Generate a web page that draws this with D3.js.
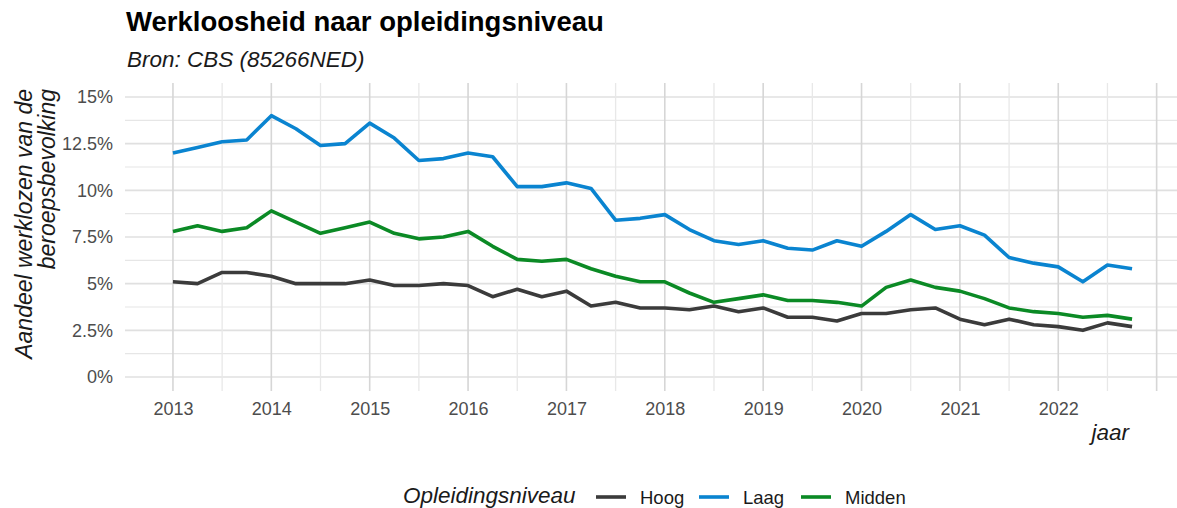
<!DOCTYPE html>
<html>
<head>
<meta charset="utf-8">
<script src="https://cdn.jsdelivr.net/npm/d3@7"></script>
<style>
  body { margin: 0; background: #fff; }
  svg { display: block; font-family: "Liberation Sans", Arial, sans-serif; }
</style>
</head>
<body>
<div id="chart"></div>
<script>
// kwartalen 2013 t/m 2022 (als decimaal jaar)
const jaren = [
  2013, 2013.25, 2013.5, 2013.75, 2014, 2014.25, 2014.5, 2014.75,
  2015, 2015.25, 2015.5, 2015.75, 2016, 2016.25, 2016.5, 2016.75,
  2017, 2017.25, 2017.5, 2017.75, 2018, 2018.25, 2018.5, 2018.75,
  2019, 2019.25, 2019.5, 2019.75, 2020, 2020.25, 2020.5, 2020.75,
  2021, 2021.25, 2021.5, 2021.75, 2022, 2022.25, 2022.5, 2022.75
];

const hoog = [
  5.1, 5.0, 5.6, 5.6, 5.4, 5.0, 5.0, 5.0,
  5.2, 4.9, 4.9, 5.0, 4.9, 4.3, 4.7, 4.3,
  4.6, 3.8, 4.0, 3.7, 3.7, 3.6, 3.8, 3.5,
  3.7, 3.2, 3.2, 3.0, 3.4, 3.4, 3.6, 3.7,
  3.1, 2.8, 3.1, 2.8, 2.7, 2.5, 2.9, 2.7
];

const laag = [
  12.0, 12.3, 12.6, 12.7, 14.0, 13.3, 12.4, 12.5,
  13.6, 12.8, 11.6, 11.7, 12.0, 11.8, 10.2, 10.2,
  10.4, 10.1, 8.4, 8.5, 8.7, 7.9, 7.3, 7.1,
  7.3, 6.9, 6.8, 7.3, 7.0, 7.8, 8.7, 7.9,
  8.1, 7.6, 6.4, 6.1, 5.9, 5.1, 6.0, 5.8
];

const midden = [
  7.8, 8.1, 7.8, 8.0, 8.9, 8.3, 7.7, 8.0,
  8.3, 7.7, 7.4, 7.5, 7.8, 7.0, 6.3, 6.2,
  6.3, 5.8, 5.4, 5.1, 5.1, 4.5, 4.0, 4.2,
  4.4, 4.1, 4.1, 4.0, 3.8, 4.8, 5.2, 4.8,
  4.6, 4.2, 3.7, 3.5, 3.4, 3.2, 3.3, 3.1
];

const niveaus = ["Hoog", "Laag", "Midden"];
const kleuren = ["#3b3b3b", "#0a84d0", "#0b8a25"];
const yTicks = [0, 2.5, 5, 7.5, 10, 12.5, 15];
const xTicks = [2013, 2014, 2015, 2016, 2017, 2018, 2019, 2020, 2021, 2022];

const width = 1177, height = 508;
const panel = { left: 125, right: 1180, top: 83, bottom: 391 };

const svg = d3.select("#chart").append("svg")
  .attr("width", width)
  .attr("height", height);

const x = d3.scaleLinear()
  .domain([2012.5125, 2023.2375])
  .range([panel.left, panel.right]);

const y = d3.scaleLinear()
  .domain([-0.75, 15.75])
  .range([panel.bottom, panel.top]);

const color = d3.scaleOrdinal().domain(niveaus).range(kleuren);

// grid
const grid = svg.append("g").attr("class", "grid");

const yMinor = d3.range(1.25, 15, 2.5);
grid.selectAll(".hminor")
  .data(yMinor)
  .join("line")
  .attr("x1", panel.left).attr("x2", panel.right)
  .attr("y1", d => y(d)).attr("y2", d => y(d))
  .attr("stroke", "#e6e6e6")
  .attr("stroke-width", 1.1);

grid.selectAll(".hmajor")
  .data(yTicks)
  .join("line")
  .attr("x1", panel.left).attr("x2", panel.right)
  .attr("y1", d => y(d)).attr("y2", d => y(d))
  .attr("stroke", "#e0e0e0")
  .attr("stroke-width", 1.6);

const xMinor = d3.range(2013.5, 2023, 1);
grid.selectAll(".vminor")
  .data(xMinor)
  .join("line")
  .attr("x1", d => x(d)).attr("x2", d => x(d))
  .attr("y1", panel.top).attr("y2", panel.bottom)
  .attr("stroke", "#e8e8e8")
  .attr("stroke-width", 1.3);

grid.selectAll(".vmajor")
  .data(xTicks.concat([2023]))
  .join("line")
  .attr("x1", d => x(d)).attr("x2", d => x(d))
  .attr("y1", panel.top).attr("y2", panel.bottom)
  .attr("stroke", "#d6d6d6")
  .attr("stroke-width", 1.6);

// axes (labels only)
const xAxis = svg.append("g")
  .attr("transform", `translate(0,${panel.bottom})`)
  .call(d3.axisBottom(x).tickValues(xTicks).tickFormat(d3.format("d")).tickSize(0).tickPadding(11));
xAxis.select(".domain").remove();
xAxis.selectAll("text")
  .attr("font-size", 18)
  .attr("fill", "#4d4d4d")
  .attr("font-family", "Liberation Sans, Arial, sans-serif");

const yAxis = svg.append("g")
  .attr("transform", `translate(${panel.left},0)`)
  .call(d3.axisLeft(y).tickValues(yTicks).tickFormat(d => d + "%").tickSize(0).tickPadding(12));
yAxis.select(".domain").remove();
yAxis.selectAll("text")
  .attr("font-size", 18)
  .attr("fill", "#4d4d4d")
  .attr("font-family", "Liberation Sans, Arial, sans-serif");

// lines
const series = [
  { naam: "Hoog", waarden: hoog },
  { naam: "Laag", waarden: laag },
  { naam: "Midden", waarden: midden }
];

const line = d3.line()
  .x((d, i) => x(jaren[i]))
  .y(d => y(d));

svg.append("g")
  .selectAll("path")
  .data(series)
  .join("path")
  .attr("d", d => line(d.waarden))
  .attr("fill", "none")
  .attr("stroke", d => color(d.naam))
  .attr("stroke-width", 3.6)
  .attr("stroke-linejoin", "round");

// titles
svg.append("text")
  .attr("x", 126).attr("y", 31)
  .attr("font-size", 27.5)
  .attr("font-weight", "bold")
  .attr("fill", "#000")
  .text("Werkloosheid naar opleidingsniveau");

svg.append("text")
  .attr("x", 127).attr("y", 67)
  .attr("font-size", 22.5)
  .attr("font-style", "italic")
  .attr("fill", "#1a1a1a")
  .text("Bron: CBS (85266NED)");

const yTitle = svg.append("text")
  .attr("transform", "rotate(-90)")
  .attr("text-anchor", "end")
  .attr("font-size", 23)
  .attr("font-style", "italic")
  .attr("fill", "#1a1a1a");
yTitle.append("tspan").attr("x", -89).attr("y", 32).text("Aandeel werklozen van de");
yTitle.append("tspan").attr("x", -89).attr("y", 55).text("beroepsbevolking");

svg.append("text")
  .attr("x", 1129).attr("y", 440)
  .attr("text-anchor", "end")
  .attr("font-size", 22.5)
  .attr("font-style", "italic")
  .attr("fill", "#1a1a1a")
  .text("jaar");

// legend
const legend = svg.append("g").attr("class", "legend");
legend.append("text")
  .attr("x", 403).attr("y", 503)
  .attr("font-size", 22.5)
  .attr("font-style", "italic")
  .attr("fill", "#1a1a1a")
  .text("Opleidingsniveau");

const keyX = [596, 699, 801];
const items = legend.selectAll(".item")
  .data(niveaus)
  .join("g")
  .attr("transform", (d, i) => `translate(${keyX[i]},497)`);

items.append("line")
  .attr("x1", 0).attr("x2", 30)
  .attr("stroke", d => color(d))
  .attr("stroke-width", 3.6);

items.append("text")
  .attr("x", 44).attr("y", 6.5)
  .attr("font-size", 18.5)
  .attr("fill", "#1a1a1a")
  .text(d => d);
</script>
</body>
</html>
